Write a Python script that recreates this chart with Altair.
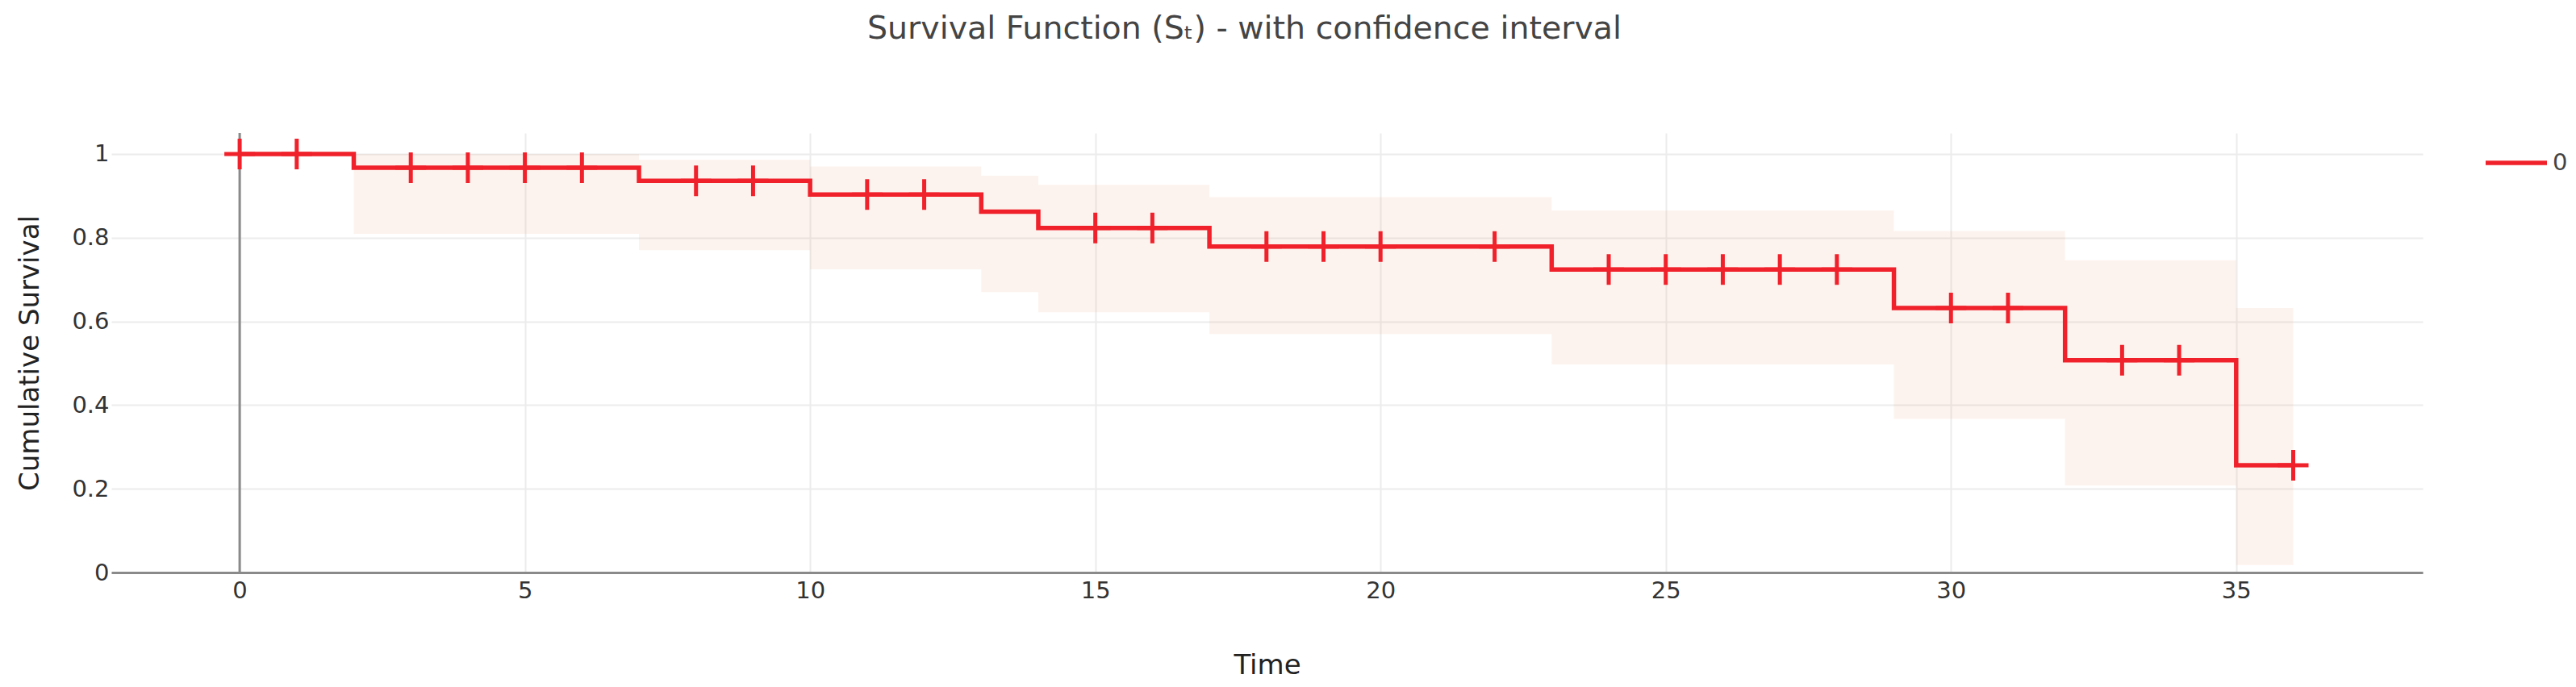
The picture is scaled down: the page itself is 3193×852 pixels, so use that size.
import altair as alt
import pandas as pd

# Kaplan-Meier step estimate (change points)
step_times = [0, 2, 7, 10, 13, 14, 17, 23, 29, 32, 35, 36]
step_surv = [1.0, 0.967, 0.936, 0.903, 0.862, 0.823, 0.779, 0.724, 0.632, 0.507, 0.256, 0.256]

# Confidence interval (step)
ci_times = [0, 2, 7, 10, 13, 14, 17, 23, 29, 32, 35, 36]
ci_upper = [1.0, 1.0, 0.986, 0.970, 0.948, 0.926, 0.897, 0.865, 0.816, 0.746, 0.632, 0.632]
ci_lower = [1.0, 0.809, 0.770, 0.7245, 0.670, 0.622, 0.570, 0.497, 0.367, 0.208, 0.018, 0.018]

# Censored observations (cross markers)
censor_times = [0, 1, 3, 4, 5, 6, 8, 9, 11, 12, 15, 16, 18, 19, 20, 22, 24, 25, 26, 27, 28, 30, 31, 33, 34, 36]
censor_surv = [1.0, 1.0, 0.967, 0.967, 0.967, 0.967, 0.936, 0.936, 0.903, 0.903, 0.823, 0.823,
               0.779, 0.779, 0.779, 0.779, 0.724, 0.724, 0.724, 0.724, 0.724, 0.632, 0.632,
               0.507, 0.507, 0.256]

x_ticks = [0, 5, 10, 15, 20, 25, 30, 35]
y_ticks = [0, 0.2, 0.4, 0.6, 0.8, 1.0]
series_name = "0"

FONT = "DejaVu Sans"
RED = "#F0212A"

step_df = pd.DataFrame({"t": step_times, "s": step_surv, "series": series_name})
ci_df = pd.DataFrame({"t": ci_times, "hi": ci_upper, "lo": ci_lower})
cen_df = pd.DataFrame({"t": censor_times, "s": censor_surv})

x_scale = alt.Scale(domain=[-2.25, 38.27], nice=False, zero=False)
y_scale = alt.Scale(domain=[0, 1.05], nice=False, zero=False)

x_axis = alt.Axis(
    values=x_ticks, format="d", title="Time", labelFontSize=29, labelFont=FONT, labelColor="#333",
    labelPadding=8, ticks=False, domainColor="#8a8a8a", domainWidth=3,
    gridColor="#ececec", gridWidth=2, titleFont=FONT, titleFontSize=34,
    titleFontWeight="normal", titleColor="#222", titleY=125, titleBaseline="alphabetic",
)
y_axis = alt.Axis(
    values=y_ticks, format=".1~f", title="Cumulative Survival", labelFontSize=29,
    labelFont=FONT, labelColor="#333", labelPadding=3, ticks=False, domain=False,
    gridColor="#ececec", gridWidth=2, titleFont=FONT, titleFontSize=34,
    titleFontWeight="normal", titleColor="#222", titleX=-91, titleY=272.5,
    titleBaseline="alphabetic", titleAngle=270,
)

band = alt.Chart(ci_df).mark_area(
    interpolate="step-after", color="#EB8755", opacity=0.1
).encode(
    x=alt.X("t:Q", scale=x_scale, axis=x_axis),
    y=alt.Y("hi:Q", scale=y_scale, axis=y_axis),
    y2="lo:Q",
)

zero_rule = alt.Chart(pd.DataFrame({"z": [0]})).mark_rule(
    color="#8a8a8a", strokeWidth=3
).encode(x=alt.X("z:Q", scale=x_scale))

line = alt.Chart(step_df).mark_line(
    interpolate="step-after", strokeWidth=5.5, strokeJoin="miter"
).encode(
    x=alt.X("t:Q", scale=x_scale),
    y=alt.Y("s:Q", scale=y_scale),
    color=alt.Color(
        "series:N",
        scale=alt.Scale(domain=[series_name], range=[RED]),
        legend=alt.Legend(
            title=None, orient="none", legendX=2940, legendY=-4,
            symbolType="stroke", symbolSize=5776, symbolStrokeWidth=5.5,
            labelFontSize=29, labelFont=FONT, labelColor="#444", labelOffset=4,
            padding=0,
        ),
    ),
)

points = alt.Chart(cen_df).mark_point(
    shape="M-1,0L1,0M0,-1L0,1", filled=False, stroke=RED, strokeWidth=5,
    size=1444, opacity=1,
).encode(
    x=alt.X("t:Q", scale=x_scale),
    y=alt.Y("s:Q", scale=y_scale),
)

chart = alt.layer(band, zero_rule, line, points).properties(
    width=2865,
    height=545,
    background="white",
    autosize=alt.AutoSizeParams(type="none"),
    padding={"left": 130, "top": 157, "right": 180, "bottom": 134},
    title=alt.TitleParams(
        text="Survival Function (Sₜ) - with confidence interval",
        font=FONT, fontSize=39.5, fontWeight="normal", color="#444",
        anchor="middle", dx=-28, offset=74, baseline="alphabetic",
    ),
).configure_view(stroke=None)

chart.save("out.html", embed_options={"renderer": "svg", "actions": False})
